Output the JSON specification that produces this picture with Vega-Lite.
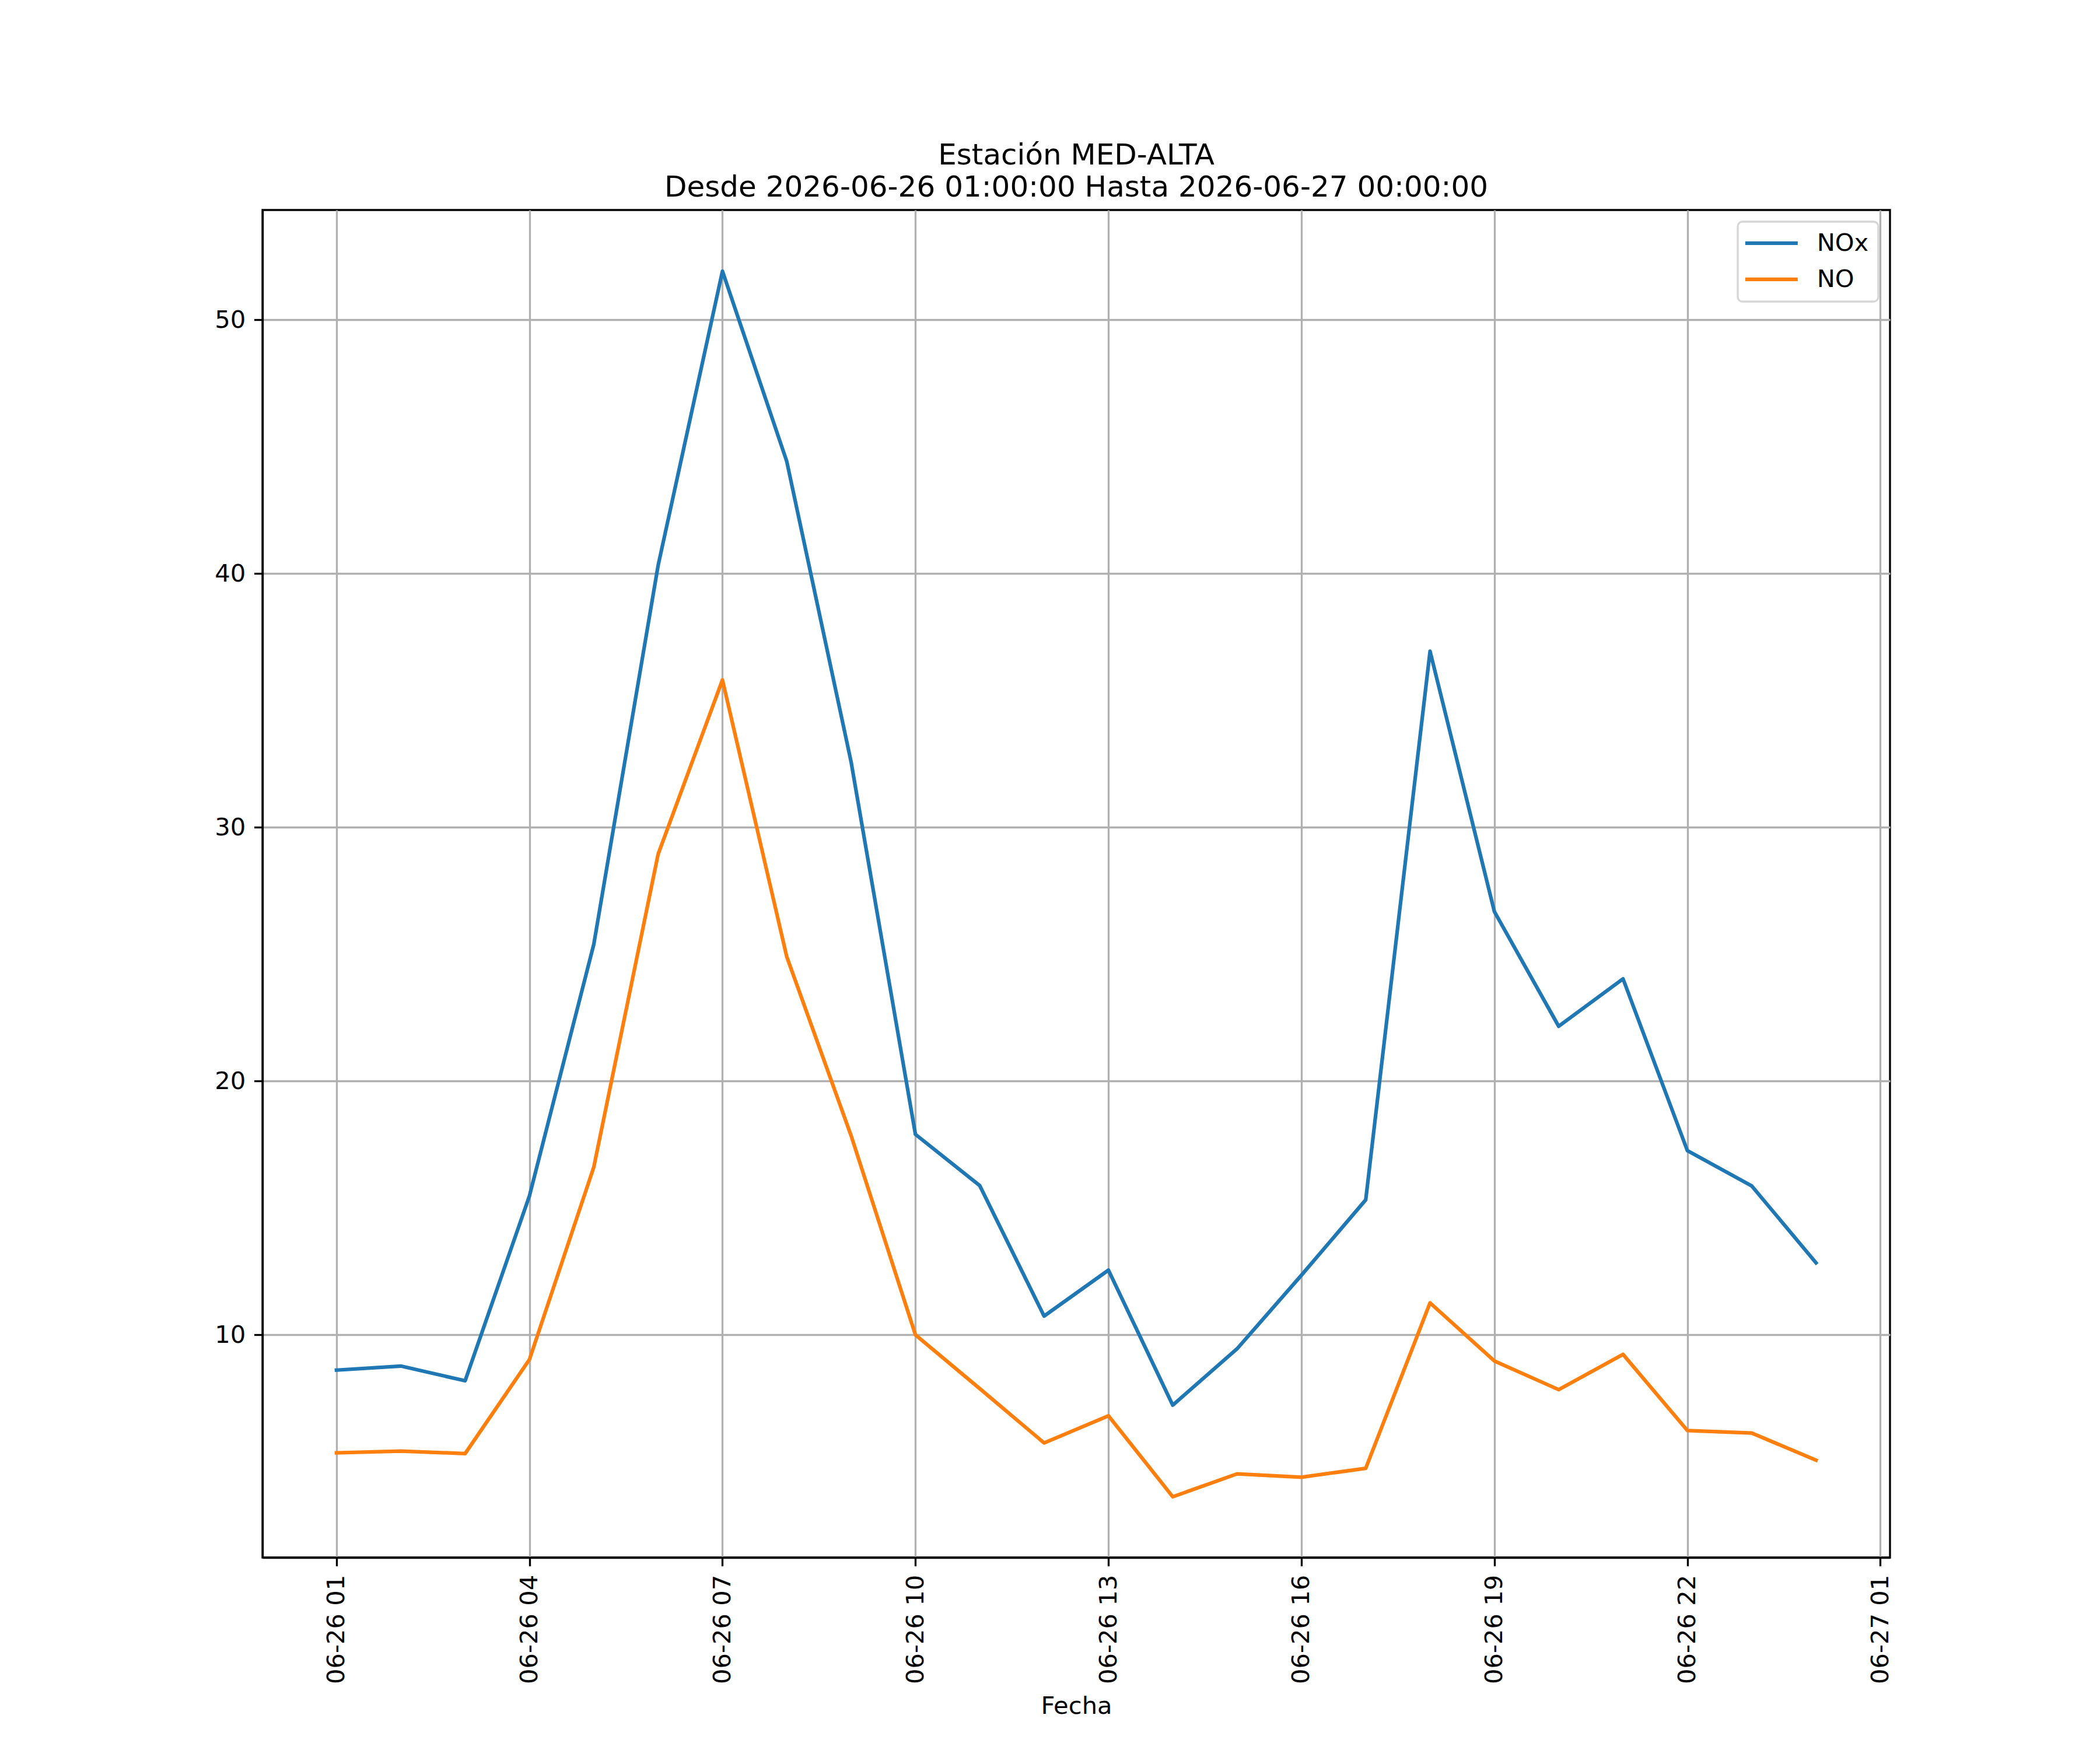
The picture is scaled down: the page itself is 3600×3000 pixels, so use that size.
{
  "$schema": "https://vega.github.io/schema/vega-lite/v6.json",
  "width": 2790,
  "height": 2310,
  "autosize": {"type": "none"},
  "padding": {"left": 450, "top": 360, "right": 360, "bottom": 330},
  "background": "white",
  "title": {
    "text": ["Estación MED-ALTA", "Desde 2026-06-26 01:00:00 Hasta 2026-06-27 00:00:00"],
    "fontSize": 50,
    "font": "DejaVu Sans",
    "fontWeight": "normal",
    "anchor": "middle",
    "lineHeight": 55,
    "baseline": "bottom",
    "offset": -37,
    "color": "black"
  },
  "data": {
    "values": [
      {"fecha": "2026-06-26T01:00:00", "serie": "NOx", "valor": 8.61},
      {"fecha": "2026-06-26T02:00:00", "serie": "NOx", "valor": 8.77},
      {"fecha": "2026-06-26T03:00:00", "serie": "NOx", "valor": 8.19},
      {"fecha": "2026-06-26T04:00:00", "serie": "NOx", "valor": 15.48},
      {"fecha": "2026-06-26T05:00:00", "serie": "NOx", "valor": 25.39},
      {"fecha": "2026-06-26T06:00:00", "serie": "NOx", "valor": 40.32},
      {"fecha": "2026-06-26T07:00:00", "serie": "NOx", "valor": 51.92},
      {"fecha": "2026-06-26T08:00:00", "serie": "NOx", "valor": 44.42},
      {"fecha": "2026-06-26T09:00:00", "serie": "NOx", "valor": 32.58},
      {"fecha": "2026-06-26T10:00:00", "serie": "NOx", "valor": 17.9},
      {"fecha": "2026-06-26T11:00:00", "serie": "NOx", "valor": 15.88},
      {"fecha": "2026-06-26T12:00:00", "serie": "NOx", "valor": 10.74},
      {"fecha": "2026-06-26T13:00:00", "serie": "NOx", "valor": 12.55},
      {"fecha": "2026-06-26T14:00:00", "serie": "NOx", "valor": 7.23},
      {"fecha": "2026-06-26T15:00:00", "serie": "NOx", "valor": 9.45},
      {"fecha": "2026-06-26T16:00:00", "serie": "NOx", "valor": 12.35},
      {"fecha": "2026-06-26T17:00:00", "serie": "NOx", "valor": 15.32},
      {"fecha": "2026-06-26T18:00:00", "serie": "NOx", "valor": 36.94},
      {"fecha": "2026-06-26T19:00:00", "serie": "NOx", "valor": 26.68},
      {"fecha": "2026-06-26T20:00:00", "serie": "NOx", "valor": 22.16},
      {"fecha": "2026-06-26T21:00:00", "serie": "NOx", "valor": 24.03},
      {"fecha": "2026-06-26T22:00:00", "serie": "NOx", "valor": 17.26},
      {"fecha": "2026-06-26T23:00:00", "serie": "NOx", "valor": 15.87},
      {"fecha": "2026-06-27T00:00:00", "serie": "NOx", "valor": 12.84},
      {"fecha": "2026-06-26T01:00:00", "serie": "NO", "valor": 5.35},
      {"fecha": "2026-06-26T02:00:00", "serie": "NO", "valor": 5.42},
      {"fecha": "2026-06-26T03:00:00", "serie": "NO", "valor": 5.32},
      {"fecha": "2026-06-26T04:00:00", "serie": "NO", "valor": 9.03},
      {"fecha": "2026-06-26T05:00:00", "serie": "NO", "valor": 16.61},
      {"fecha": "2026-06-26T06:00:00", "serie": "NO", "valor": 28.94},
      {"fecha": "2026-06-26T07:00:00", "serie": "NO", "valor": 35.81},
      {"fecha": "2026-06-26T08:00:00", "serie": "NO", "valor": 24.9},
      {"fecha": "2026-06-26T09:00:00", "serie": "NO", "valor": 17.85},
      {"fecha": "2026-06-26T10:00:00", "serie": "NO", "valor": 10.0},
      {"fecha": "2026-06-26T11:00:00", "serie": "NO", "valor": 7.88},
      {"fecha": "2026-06-26T12:00:00", "serie": "NO", "valor": 5.74},
      {"fecha": "2026-06-26T13:00:00", "serie": "NO", "valor": 6.81},
      {"fecha": "2026-06-26T14:00:00", "serie": "NO", "valor": 3.62},
      {"fecha": "2026-06-26T15:00:00", "serie": "NO", "valor": 4.52},
      {"fecha": "2026-06-26T16:00:00", "serie": "NO", "valor": 4.39},
      {"fecha": "2026-06-26T17:00:00", "serie": "NO", "valor": 4.74},
      {"fecha": "2026-06-26T18:00:00", "serie": "NO", "valor": 11.26},
      {"fecha": "2026-06-26T19:00:00", "serie": "NO", "valor": 8.97},
      {"fecha": "2026-06-26T20:00:00", "serie": "NO", "valor": 7.84},
      {"fecha": "2026-06-26T21:00:00", "serie": "NO", "valor": 9.23},
      {"fecha": "2026-06-26T22:00:00", "serie": "NO", "valor": 6.23},
      {"fecha": "2026-06-26T23:00:00", "serie": "NO", "valor": 6.13},
      {"fecha": "2026-06-27T00:00:00", "serie": "NO", "valor": 5.06}
    ]
  },
  "mark": {"type": "line", "strokeWidth": 6.25, "strokeJoin": "round", "strokeCap": "square"},
  "encoding": {
    "x": {
      "field": "fecha",
      "type": "temporal",
      "scale": {
        "domain": [
          {"year": 2026, "month": 6, "date": 25, "hours": 23, "minutes": 51},
          {"year": 2026, "month": 6, "date": 27, "hours": 1, "minutes": 9}
        ],
        "nice": false
      },
      "axis": {
        "title": "Fecha",
        "values": [
          {"year": 2026, "month": 6, "date": 26, "hours": 1},
          {"year": 2026, "month": 6, "date": 26, "hours": 4},
          {"year": 2026, "month": 6, "date": 26, "hours": 7},
          {"year": 2026, "month": 6, "date": 26, "hours": 10},
          {"year": 2026, "month": 6, "date": 26, "hours": 13},
          {"year": 2026, "month": 6, "date": 26, "hours": 16},
          {"year": 2026, "month": 6, "date": 26, "hours": 19},
          {"year": 2026, "month": 6, "date": 26, "hours": 22},
          {"year": 2026, "month": 6, "date": 27, "hours": 1}
        ],
        "format": "%m-%d %H",
        "labelAngle": 270,
        "labelAlign": "right",
        "labelBaseline": "middle",
        "labelLimit": 0,
        "titlePadding": 34
      }
    },
    "y": {
      "field": "valor",
      "type": "quantitative",
      "scale": {"domain": [1.225, 54.33], "nice": false, "zero": false},
      "axis": {"title": null, "values": [10, 20, 30, 40, 50]}
    },
    "color": {
      "field": "serie",
      "type": "nominal",
      "scale": {"domain": ["NOx", "NO"], "range": ["#1f77b4", "#ff7f0e"]},
      "legend": {
        "title": null,
        "orient": "top-right",
        "offset": 20,
        "padding": 16,
        "fillColor": "rgba(255,255,255,0.8)",
        "strokeColor": "#d6d6d6",
        "symbolType": "M-3,0H3",
        "symbolSize": 900,
        "symbolOffset": 21,
        "symbolStrokeWidth": 6.25,
        "labelFontSize": 41.67,
        "labelFont": "DejaVu Sans",
        "labelColor": "black",
        "labelOffset": 57,
        "rowPadding": 19,
        "cornerRadius": 8
      }
    }
  },
  "config": {
    "view": {"stroke": "black", "strokeWidth": 3.33},
    "font": "DejaVu Sans",
    "axis": {
      "labelFont": "DejaVu Sans",
      "labelFontSize": 41.67,
      "labelColor": "black",
      "titleFont": "DejaVu Sans",
      "titleFontSize": 41.67,
      "titleFontWeight": "normal",
      "titleColor": "black",
      "tickColor": "black",
      "tickSize": 14.6,
      "tickWidth": 3.33,
      "domainColor": "black",
      "domainWidth": 3.33,
      "grid": true,
      "gridColor": "#b0b0b0",
      "gridWidth": 3.33,
      "labelPadding": 14.6,
      "labelFlush": false,
      "labelOverlap": false
    },
    "legend": {"strokeWidth": 3.33}
  }
}
